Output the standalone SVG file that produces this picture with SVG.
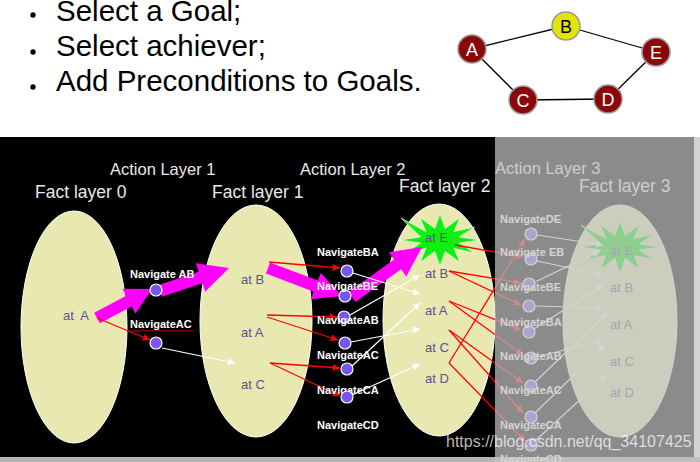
<svg xmlns="http://www.w3.org/2000/svg" width="700" height="462" viewBox="0 0 700 462">
<style>
text{font-family:"Liberation Sans",Arial,sans-serif}
.bul{font-size:29.5px;fill:#000}
.gl{font-size:18px;text-anchor:middle}
.hd{fill:#e8e8ec}
.fact{fill:#e8e8b0;stroke:#fff;stroke-width:1}
.ft{font-size:13px;fill:#5a5296}
.lab{font-size:11px;font-weight:bold;fill:#fff}
.act{fill:#7755ee;stroke:#fff;stroke-width:1.2}
.red{stroke:#f00;stroke-width:1.3;fill:none;marker-end:url(#ar)}
.wht{stroke:#fff;stroke-width:1.2;fill:none;marker-end:url(#aw)}
.big{fill:#ff00ff}
.star{fill:#11ee11;stroke:#fff;stroke-width:0.6}
.gedge{stroke:#000;stroke-width:1.3}
.gn{stroke:#999;stroke-width:1.5}
</style>
<defs>
<marker id="ar" viewBox="0 0 10 10" refX="10" refY="5" markerWidth="9" markerHeight="7" orient="auto" markerUnits="userSpaceOnUse"><path d="M0,0 L10,5 L0,10 z" fill="#f00"/></marker>
<marker id="aw" viewBox="0 0 10 10" refX="10" refY="5" markerWidth="9" markerHeight="7" orient="auto" markerUnits="userSpaceOnUse"><path d="M0,0 L10,5 L0,10 z" fill="#fff"/></marker>
<polygon id="starShape" points="480,240 459.3,243.1 474.6,253 454.1,248.5 460,262.5 445.2,251.6 440,266 434.8,251.6 420,262.5 425.9,248.5 405.4,253 420.7,243.1 400,240 420.7,236.9 401,218 425.9,231.5 420,217.5 434.8,228.4 440,214 445.2,228.4 460,217.5 454.1,231.5 474.6,227 459.3,236.9"/>
</defs>
<rect width="700" height="462" fill="#fff"/>

<g id="bullets">
<circle cx="33" cy="15" r="2.7" fill="#000"/>
<circle cx="33" cy="52" r="2.7" fill="#000"/>
<circle cx="33" cy="87" r="2.7" fill="#000"/>
<text class="bul" x="56" y="21">Select a Goal;</text>
<text class="bul" x="56" y="56">Select achiever;</text>
<text class="bul" x="56" y="91">Add Preconditions to Goals.</text>
</g>

<g id="map-edges">
<line class="gedge" x1="472" y1="49" x2="566" y2="26"/>
<line class="gedge" x1="566" y1="26" x2="656" y2="52"/>
<line class="gedge" x1="472" y1="49" x2="523" y2="100"/>
<line class="gedge" x1="523" y1="100" x2="608" y2="99"/>
<line class="gedge" x1="608" y1="99" x2="656" y2="52"/>
</g>
<g id="map-A"><circle class="gn" cx="472" cy="49" r="14" fill="#8a0808"/><text class="gl" x="472" y="55.5" fill="#fff">A</text></g>
<g id="map-B"><circle class="gn" cx="566" cy="26" r="14" fill="#e4e400"/><text class="gl" x="566" y="32.5" fill="#000">B</text></g>
<g id="map-E"><circle class="gn" cx="656" cy="52" r="14" fill="#8a0808"/><text class="gl" x="656" y="58.5" fill="#fff">E</text></g>
<g id="map-C"><circle class="gn" cx="523" cy="100" r="14" fill="#8a0808"/><text class="gl" x="523" y="106.5" fill="#fff">C</text></g>
<g id="map-D"><circle class="gn" cx="608" cy="99" r="14" fill="#8a0808"/><text class="gl" x="608" y="105.5" fill="#fff">D</text></g>

<rect x="0" y="137" width="694" height="320" fill="#000"/>
<rect x="0" y="457" width="700" height="5" fill="#b4b4b4"/>

<g id="headings">
<text class="hd" x="110" y="175" font-size="16.5">Action Layer 1</text>
<text class="hd" x="35" y="198" font-size="17.5">Fact layer 0</text>
<text class="hd" x="212" y="198" font-size="17.5">Fact layer 1</text>
<text class="hd" x="300" y="175" font-size="16.5">Action Layer 2</text>
<text class="hd" x="399" y="192" font-size="17.5">Fact layer 2</text>
<text class="hd" x="495" y="174" font-size="16.5">Action Layer 3</text>
<text class="hd" x="579" y="192" font-size="17.5">Fact layer 3</text>
</g>

<g id="fact-layer-0">
<ellipse class="fact" cx="74" cy="327" rx="53" ry="116"/>
<text class="ft" x="63" y="320" xml:space="preserve">at  A</text>
</g>
<g id="fact-layer-1">
<ellipse class="fact" cx="256" cy="321" rx="56" ry="116"/>
<text class="ft" x="241" y="284">at B</text>
<text class="ft" x="241" y="337">at A</text>
<text class="ft" x="241" y="389">at C</text>
</g>
<g id="fact-layer-2">
<ellipse class="fact" cx="439" cy="320" rx="56" ry="116"/>
<use href="#starShape" class="star"/>
<text class="ft" x="425" y="242">at E</text>
<text class="ft" x="425" y="278">at B</text>
<text class="ft" x="425" y="315">at A</text>
<text class="ft" x="425" y="352">at C</text>
<text class="ft" x="425" y="383">at D</text>
</g>
<g id="fact-layer-3">
<ellipse class="fact" cx="620" cy="321" rx="57" ry="116"/>
<use href="#starShape" class="star" transform="translate(180,7)"/>
<text class="ft" x="610" y="255">at E</text>
<text class="ft" x="610" y="292">at B</text>
<text class="ft" x="610" y="329">at A</text>
<text class="ft" x="610" y="366">at C</text>
<text class="ft" x="610" y="397">at D</text>
</g>

<g id="plan-arrows">
<polygon class="big" points="99.8,323.3 131.8,306.4 135.5,313.5 152,289 122.5,288.7 126.2,295.8 94.2,312.7"/>
<polygon class="big" points="161.9,296.7 202.4,283.2 205.2,291.7 229,268 195.8,263.3 198.6,271.8 158.1,285.3"/>
<polygon class="big" points="265.9,273.6 313.7,291.7 310.8,299.2 342,296 320.8,273 317.9,280.5 270.1,262.4"/>
<polygon class="big" points="355.5,301.9 401.1,269.3 406.3,276.6 422,247 388.9,252.2 394.1,259.5 348.5,292.1"/>
</g>

<g id="connectors">
<line class="red" x1="97" y1="318" x2="150" y2="340"/>
<line class="wht" x1="162" y1="348" x2="235" y2="363"/>
<line class="red" x1="269" y1="262" x2="340" y2="268"/>
<line class="red" x1="267" y1="315" x2="337" y2="317"/>
<line class="red" x1="267" y1="317" x2="338" y2="340"/>
<line class="red" x1="270" y1="363" x2="340" y2="368"/>
<line class="red" x1="270" y1="363" x2="340" y2="396"/>
<line class="wht" x1="353" y1="273" x2="420" y2="294"/>
<line class="wht" x1="350" y1="315" x2="420" y2="275"/>
<line class="wht" x1="351" y1="342" x2="420" y2="329"/>
<line class="wht" x1="352" y1="366" x2="420" y2="303"/>
<line class="wht" x1="352" y1="395" x2="420" y2="364"/>
<line class="red" x1="455" y1="245" x2="523" y2="257"/>
<line class="red" x1="449" y1="271" x2="521" y2="283"/>
<line class="red" x1="449" y1="271" x2="521" y2="305"/>
<line class="red" x1="449" y1="301" x2="521" y2="330"/>
<line class="red" x1="449" y1="301" x2="523" y2="355"/>
<line class="red" x1="449" y1="330" x2="523" y2="383"/>
<line class="red" x1="449" y1="330" x2="523" y2="413"/>
<line class="red" x1="449" y1="363" x2="525" y2="239"/>
<line class="red" x1="449" y1="363" x2="525" y2="441"/>
<line class="wht" x1="537" y1="235" x2="603" y2="245"/>
<line class="wht" x1="537" y1="261" x2="603" y2="275"/>
<line class="wht" x1="535" y1="282" x2="600" y2="251"/>
<line class="wht" x1="535" y1="306" x2="603" y2="308"/>
<line class="wht" x1="534" y1="329" x2="603" y2="285"/>
<line class="wht" x1="537" y1="357" x2="603" y2="340"/>
<line class="wht" x1="535" y1="382" x2="607" y2="313"/>
<line class="wht" x1="535" y1="413" x2="605" y2="345"/>
<line class="wht" x1="535" y1="441" x2="607" y2="375"/>
</g>

<g id="action-layer-1">
<g id="a1-NavigateAB"><circle class="act" cx="156" cy="290" r="6"/><text class="lab" x="130" y="278">Navigate AB</text></g>
<g id="a1-NavigateAC"><circle class="act" cx="156" cy="343" r="6"/><text class="lab" x="130" y="328">NavigateAC</text>
<path d="M130,331.5 l2,-1.5 l2,1.5 l2,-1.5 l2,1.5 l2,-1.5 l2,1.5 l2,-1.5 l2,1.5 l2,-1.5 l2,1.5 l2,-1.5 l2,1.5 l2,-1.5 l2,1.5 l2,-1.5 l2,1.5 l2,-1.5 l2,1.5 l2,-1.5 l2,1.5 l2,-1.5 l2,1.5 l2,-1.5 l2,1.5 l2,-1.5 l2,1.5 l2,-1.5 l2,1.5 l2,-1.5 l2,1.5 l2,-1.5 l2,1.5" fill="none" stroke="#e00" stroke-width="0.8"/></g>
</g>
<g id="action-layer-2">
<g id="a2-NavigateBA"><circle class="act" cx="347" cy="271" r="6"/><text class="lab" x="317" y="256">NavigateBA</text></g>
<g id="a2-NavigateBE"><circle class="act" cx="345" cy="296" r="6"/><text class="lab" x="317" y="290">NavigateBE</text></g>
<g id="a2-NavigateAB"><circle class="act" cx="344" cy="317" r="6"/><text class="lab" x="317" y="324">NavigateAB</text></g>
<g id="a2-NavigateAC"><circle class="act" cx="345" cy="343" r="6"/><text class="lab" x="317" y="359">NavigateAC</text></g>
<g id="a2-NavigateCA"><circle class="act" cx="347" cy="369" r="6"/><text class="lab" x="317" y="394">NavigateCA</text></g>
<g id="a2-NavigateCD"><circle class="act" cx="347" cy="397" r="6"/><text class="lab" x="317" y="429">NavigateCD</text></g>
</g>
<g id="action-layer-3">
<g id="a3-NavigateDE"><circle class="act" cx="531" cy="234" r="6"/><text class="lab" x="500" y="223">NavigateDE</text></g>
<g id="a3-NavigateEB"><circle class="act" cx="531" cy="259" r="6"/><text class="lab" x="500" y="256">Navigate EB</text></g>
<g id="a3-NavigateBE"><circle class="act" cx="529" cy="284" r="6"/><text class="lab" x="500" y="291">NavigateBE</text></g>
<g id="a3-NavigateBA"><circle class="act" cx="529" cy="306" r="6"/><circle class="act" cx="529" cy="332" r="6"/><text class="lab" x="500" y="326">NavigateBA</text></g>
<g id="a3-NavigateAB"><circle class="act" cx="531" cy="358" r="6"/><text class="lab" x="500" y="360">NavigateAB</text></g>
<g id="a3-NavigateAC"><circle class="act" cx="531" cy="386" r="6"/><text class="lab" x="500" y="394">NavigateAC</text></g>
<g id="a3-NavigateCA"><circle class="act" cx="531" cy="417" r="6"/><text class="lab" x="500" y="429">NavigateCA</text></g>
<g id="a3-NavigateCD"><circle class="act" cx="531" cy="445" r="6"/><text class="lab" x="500" y="463">NavigateCD</text></g>
</g>

<rect id="fade-overlay" x="495" y="137" width="205" height="325" fill="rgb(193,193,193)" fill-opacity="0.716"/>

<text id="watermark" x="446" y="447" font-size="16" fill="#fff" fill-opacity="0.72">https://blog.csdn.net/qq_34107425</text>
</svg>
